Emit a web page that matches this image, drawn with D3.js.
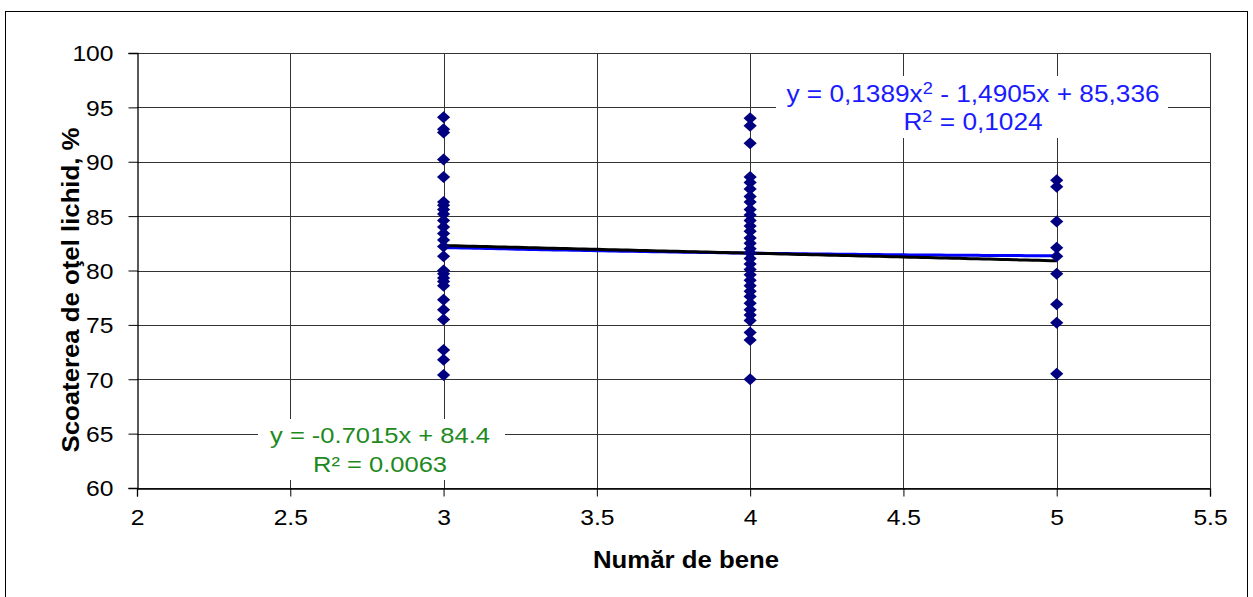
<!DOCTYPE html>
<html>
<head>
<meta charset="utf-8">
<script src="https://cdn.jsdelivr.net/npm/d3@7"></script>
<style>
  html, body { margin: 0; padding: 0; background: #fff; }
  svg { display: block; font-family: "Liberation Sans", Arial, sans-serif; }
</style>
</head>
<body>
<svg id="chart" width="1253" height="597"></svg>
<script>
// Observations: number of ladles vs. liquid steel yield, %
const xs3 = [94.1, 93.0, 92.7, 90.2, 88.6, 86.3, 86.0, 85.6, 85.2, 84.6, 84.0, 83.4, 82.8, 82.2,
             81.3, 80.0, 79.7, 79.3, 79.0, 78.6, 77.3, 76.4, 75.5, 72.7, 71.8, 70.4];
const xs4 = [94.0, 93.3, 91.7, 88.6, 88.1, 87.5, 86.8, 86.3, 85.6, 85.1, 84.6, 84.1, 83.6, 83.0,
             82.5, 82.0, 81.6, 81.1, 80.6, 80.1, 79.6, 79.1, 78.6, 78.1, 77.6, 77.0, 76.4, 75.9,
             75.4, 74.3, 73.6, 70.0];
const xs5 = [88.3, 87.7, 84.5, 82.1, 81.3, 79.7, 76.9, 75.2, 70.5];
const ladleCounts = [3, 4, 5];
const yieldGroups = [xs3, xs4, xs5];

const xTicks = [2, 2.5, 3, 3.5, 4, 4.5, 5, 5.5];
const xTickLabels = ["2", "2.5", "3", "3.5", "4", "4.5", "5", "5.5"];
const yTicks = [60, 65, 70, 75, 80, 85, 90, 95, 100];

// Trendline coefficients
const linCoef = { a: -0.7015, b: 84.4 };
const polyCoef = { a: 0.1389, b: -1.4905, c: 85.336 };
const linLabel = ["y = -0.7015x + 84.4", "R² = 0.0063"];
const polyLabel = ["0,1389", "1,4905", "85,336", "0,1024"];

const points = [];
ladleCounts.forEach((n, i) => yieldGroups[i].forEach(v => points.push({ x: n, y: v })));

const svg = d3.select("#chart");
const m = { left: 137, right: 1210, top: 53, bottom: 488 };

const x = d3.scaleLinear().domain([2, 5.5]).range([m.left, m.right]);
const y = d3.scaleLinear().domain([60, 100]).range([m.bottom, m.top]);

// Widen glyphs horizontally by factor k
function stretch(sel, k) {
  sel.each(function () {
    const len = this.getComputedTextLength();
    d3.select(this).attr("textLength", len * k).attr("lengthAdjust", "spacingAndGlyphs");
  });
}

// Outer chart frame
svg.append("rect").attr("x", 5.5).attr("y", 11.5).attr("width", 1242).attr("height", 600)
  .attr("fill", "none").attr("stroke", "#000").attr("stroke-width", 1);

// Grid
const grid = svg.append("g");
grid.selectAll("line.h").data(yTicks).join("line")
  .attr("x1", m.left).attr("x2", m.right)
  .attr("y1", d => Math.round(y(d)) + 0.5).attr("y2", d => Math.round(y(d)) + 0.5)
  .attr("stroke", "#333").attr("stroke-width", 1);
grid.selectAll("line.v").data(xTicks.slice(1)).join("line")
  .attr("y1", m.top).attr("y2", m.bottom)
  .attr("x1", d => Math.round(x(d)) + 0.5).attr("x2", d => Math.round(x(d)) + 0.5)
  .attr("stroke", "#333").attr("stroke-width", 1);

// Axes
const yAxis = svg.append("g").attr("transform", `translate(${m.left + 0.5},0)`)
  .call(d3.axisLeft(y).tickValues(yTicks).tickSize(9).tickPadding(15).tickFormat(d3.format("d")));
const xAxis = svg.append("g").attr("transform", `translate(0,${m.bottom + 0.5})`)
  .call(d3.axisBottom(x).tickValues(xTicks).tickSize(8).tickPadding(13).tickFormat((d, i) => xTickLabels[i]));
[yAxis, xAxis].forEach(g => {
  g.select(".domain").attr("stroke", "#000").attr("stroke-width", 1.3);
  g.selectAll(".tick line").attr("stroke", "#000");
  g.selectAll(".tick text").attr("font-size", 22).attr("fill", "#000")
    .attr("font-family", "'Liberation Sans', Arial, sans-serif");
  stretch(g.selectAll(".tick text"), 1.12);
});
yAxis.selectAll(".tick text").attr("dy", "0.36em");

// Trendlines
const xsLine = d3.range(3, 5.0001, 0.02);
const line = d3.line().x(d => x(d[0])).y(d => y(d[1]));
svg.append("path")
  .datum(xsLine.map(t => [t, polyCoef.a * t * t + polyCoef.b * t + polyCoef.c]))
  .attr("d", line).attr("fill", "none").attr("stroke", "#0000ff").attr("stroke-width", 3);
svg.append("path")
  .datum(xsLine.map(t => [t, linCoef.a * t + linCoef.b]))
  .attr("d", line).attr("fill", "none").attr("stroke", "#000").attr("stroke-width", 3);

// Markers: squat diamonds
const diamondWide = {
  draw(ctx, size) {
    const w = Math.sqrt(size) * 0.55, h = Math.sqrt(size) * 0.5;
    ctx.moveTo(0, -h); ctx.lineTo(w, 0); ctx.lineTo(0, h); ctx.lineTo(-w, 0); ctx.closePath();
  }
};
const diamond = d3.symbol().type(diamondWide).size(144);
svg.append("g").selectAll("path").data(points).join("path")
  .attr("transform", d => `translate(${x(d.x)},${y(d.y)})`)
  .attr("d", diamond).attr("fill", "#000080");

// Trendline labels
const polyG = svg.append("g");
polyG.append("rect").attr("x", 776).attr("y", 76).attr("width", 392).attr("height", 62).attr("fill", "#fff");
const pt1 = polyG.append("text").attr("x", 973).attr("y", 102).attr("text-anchor", "middle")
  .attr("font-size", 23).attr("fill", "#1a1aff");
pt1.append("tspan").text(`y = ${polyLabel[0]}x`);
pt1.append("tspan").attr("font-size", 16).attr("dy", -8).text("2");
pt1.append("tspan").attr("dy", 8).text(` - ${polyLabel[1]}x + ${polyLabel[2]}`);
const pt2 = polyG.append("text").attr("x", 973).attr("y", 130).attr("text-anchor", "middle")
  .attr("font-size", 23).attr("fill", "#1a1aff");
pt2.append("tspan").text("R");
pt2.append("tspan").attr("font-size", 16).attr("dy", -8).text("2");
pt2.append("tspan").attr("dy", 8).text(` = ${polyLabel[3]}`);
stretch(polyG.selectAll("text"), 1.14);

const linG = svg.append("g");
linG.append("rect").attr("x", 258).attr("y", 419).attr("width", 247).attr("height", 61).attr("fill", "#fff");
linG.selectAll("text").data(linLabel).join("text")
  .attr("x", 380).attr("y", (d, i) => 443 + i * 29).attr("text-anchor", "middle")
  .attr("font-size", 22).attr("fill", "#1e8a1e").text(d => d);
stretch(linG.selectAll("text"), 1.16);

// Axis titles
const xTitle = svg.append("text").attr("x", 686).attr("y", 568).attr("text-anchor", "middle")
  .attr("font-size", 23).attr("font-weight", "bold").text("Număr de bene");
const yTitle = svg.append("text").attr("transform", `translate(79,290) rotate(-90)`).attr("text-anchor", "middle")
  .attr("font-size", 23).attr("font-weight", "bold").text("Scoaterea de oţel lichid, %");
stretch(xTitle, 1.12);
stretch(yTitle, 1.12);
</script>
</body>
</html>
